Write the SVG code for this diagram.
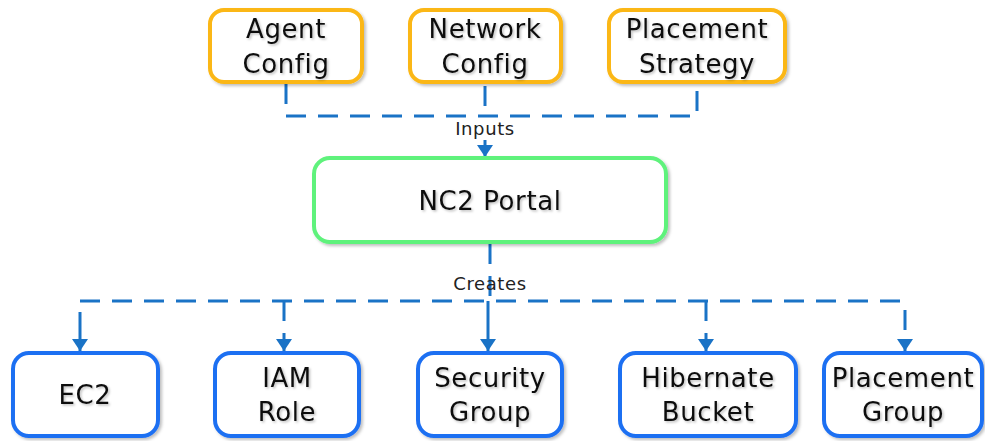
<svg xmlns="http://www.w3.org/2000/svg" width="985" height="441" viewBox="0 0 985 441">
<defs>
<filter id="sh" x="-10%" y="-10%" width="120%" height="130%"><feDropShadow dx="2" dy="2" stdDeviation="1.5" flood-color="#000" flood-opacity="0.25"/></filter>
<filter id="tsh" x="-10%" y="-10%" width="120%" height="130%"><feDropShadow dx="1.5" dy="1.5" stdDeviation="1" flood-color="#000" flood-opacity="0.25"/></filter>
<marker id="ah" viewBox="0 0 12 16" refX="12" refY="8" markerWidth="12" markerHeight="16" markerUnits="userSpaceOnUse" orient="auto"><path d="M0,0 L12,8 L0,16 Z" fill="#1a73c6"/></marker>
</defs>
<style>
.box{fill:#fff;stroke-width:4;filter:url(#sh)}
.in{stroke:#fbb715}
.core{stroke:#5ef27c}
.out{stroke:#1f6ff2}
.t{font-family:"DejaVu Sans","Liberation Sans",sans-serif;font-size:26px;letter-spacing:0.6px;fill:#111;text-anchor:middle;filter:url(#tsh)}
.lbl{font-family:"DejaVu Sans","Liberation Sans",sans-serif;font-size:18px;letter-spacing:0.6px;fill:#222;text-anchor:middle}
.c{fill:none;stroke:#1a73c6;stroke-width:3;stroke-dasharray:20 12}
.s{fill:none;stroke:#1a73c6;stroke-width:3}
</style>
<rect width="985" height="441" fill="#fff"/>
<g id="connectors">
<path class="c" d="M286,84 V116 H697 V84"/>
<path class="c" d="M485,86 V116"/>
<path class="s" d="M485,140 V157" marker-end="url(#ah)"/>
<path class="c" d="M490,244 V301"/>
<path class="c" d="M80,301 H905"/>
<path class="s" d="M80,312 V351" marker-end="url(#ah)"/>
<path class="c" d="M284,301 V351" marker-end="url(#ah)"/>
<path class="s" d="M488,301 V351" marker-end="url(#ah)"/>
<path class="c" d="M706,301 V351" marker-end="url(#ah)"/>
<path class="c" d="M905,310 V351" marker-end="url(#ah)"/>
<text class="lbl" x="485" y="135">Inputs</text>
<text class="lbl" x="490" y="290">Creates</text>
</g>
<g id="agent-config"><rect class="box in" x="210" y="10" width="152" height="72" rx="14"/><text class="t" x="286" y="38">Agent</text><text class="t" x="286" y="73">Config</text></g>
<g id="network-config"><rect class="box in" x="410" y="10" width="151" height="72" rx="14"/><text class="t" x="485" y="38">Network</text><text class="t" x="485" y="73">Config</text></g>
<g id="placement-strategy"><rect class="box in" x="609" y="10" width="176" height="72" rx="14"/><text class="t" x="697" y="38">Placement</text><text class="t" x="697" y="73">Strategy</text></g>
<g id="nc2-portal"><rect class="box core" x="314" y="158" width="352" height="84" rx="16"/><text class="t" x="490" y="210">NC2 Portal</text></g>
<g id="ec2"><rect class="box out" x="13" y="353" width="145" height="83" rx="16"/><text class="t" x="85" y="404">EC2</text></g>
<g id="iam-role"><rect class="box out" x="215" y="353" width="144" height="83" rx="16"/><text class="t" x="287" y="387">IAM</text><text class="t" x="287" y="421">Role</text></g>
<g id="security-group"><rect class="box out" x="418" y="353" width="144" height="83" rx="16"/><text class="t" x="490" y="387">Security</text><text class="t" x="490" y="421">Group</text></g>
<g id="hibernate-bucket"><rect class="box out" x="620" y="353" width="176" height="83" rx="16"/><text class="t" x="708" y="387">Hibernate</text><text class="t" x="708" y="421">Bucket</text></g>
<g id="placement-group"><rect class="box out" x="824" y="353" width="158" height="83" rx="16"/><text class="t" x="903" y="387">Placement</text><text class="t" x="903" y="421">Group</text></g>
</svg>
